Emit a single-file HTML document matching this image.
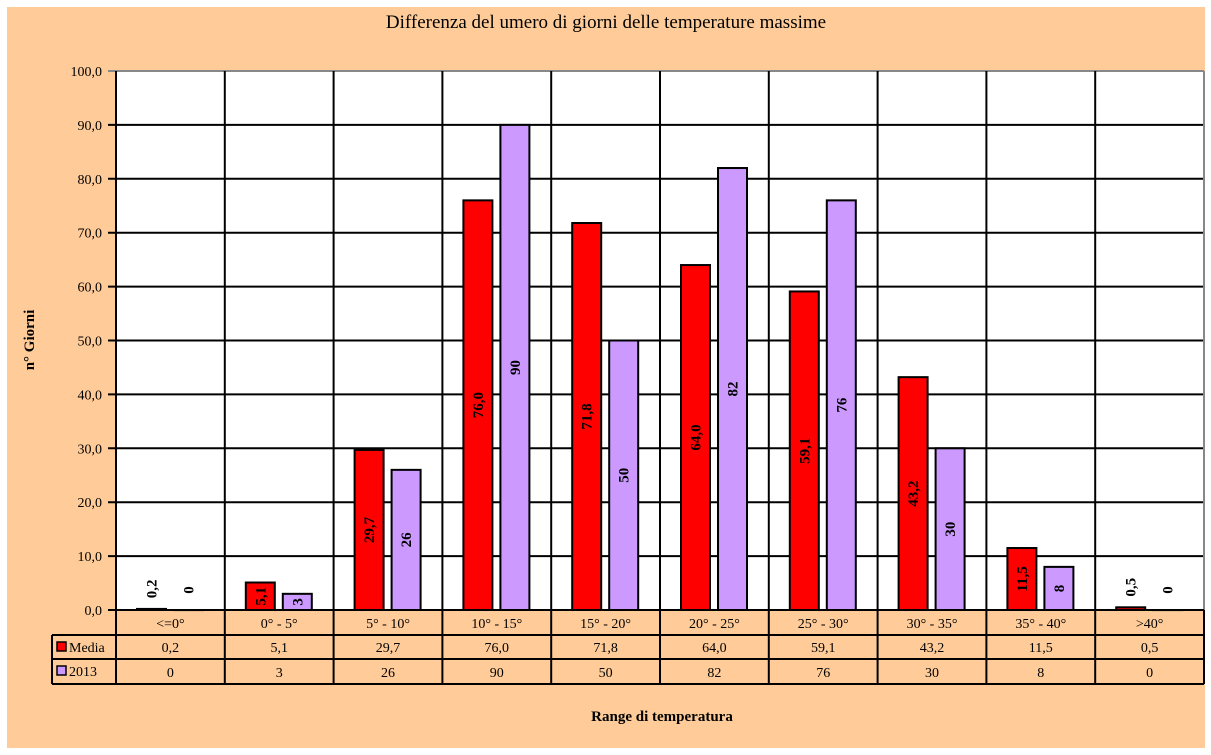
<!DOCTYPE html>
<html><head><meta charset="utf-8"><style>
body{margin:0;background:#fff;}
svg{display:block;font-family:"Liberation Serif",serif;}
</style></head><body>
<svg id="chart" width="1211" height="755" xmlns="http://www.w3.org/2000/svg">
<rect x="7" y="7" width="1198" height="741" fill="#FFCC99"/>
<text x="606" y="28" text-anchor="middle" font-size="19">Differenza del umero di giorni delle temperature massime</text>
<rect x="116" y="71" width="1088" height="539" fill="#fff"/>
<g id="grid"></g>
<g id="bars"></g>
<g id="table"></g>
<text transform="translate(34,340) rotate(-90)" text-anchor="middle" font-size="15" font-weight="bold">n° Giorni</text>
<text x="662" y="721" text-anchor="middle" font-size="15" font-weight="bold">Range di temperatura</text>
</svg>
<script>
const categories=["<=0°","0° - 5°","5° - 10°","10° - 15°","15° - 20°","20° - 25°","25° - 30°","30° - 35°","35° - 40°",">40°"];
const media=[0.2,5.1,29.7,76.0,71.8,64.0,59.1,43.2,11.5,0.5];
const y2013=[0,3,26,90,50,82,76,30,8,0];
const yTicks=[0,10,20,30,40,50,60,70,80,90,100];
const NS="http://www.w3.org/2000/svg";
const X0=116,X1=1204,Y0=610,Y1=71,YMAX=100;
const cw=(X1-X0)/categories.length;
const y=v=>Y0-(v/YMAX)*(Y0-Y1);
const xc=i=>X0+i*cw;
const fmt1=v=>v.toFixed(1).replace('.',',');
function mk(tag,attrs,parent,txt){const e=document.createElementNS(NS,tag);for(const k in attrs)e.setAttribute(k,attrs[k]);if(txt!==undefined)e.textContent=txt;parent.appendChild(e);return e;}
const grid=document.getElementById('grid'),bars=document.getElementById('bars'),table=document.getElementById('table');
yTicks.forEach(t=>{
  const l=mk('line',{x1:X0-8,x2:X1,y1:y(t),y2:y(t),stroke:t===YMAX?'#888':'#000','stroke-width':2},grid);
  
  
  const tx=mk('text',{x:X0-14,y:y(t)+5,'text-anchor':'end','font-size':14},grid,fmt1(t));
  
  
});
for(let i=0;i<=categories.length;i++){
  const l=mk('line',{x1:xc(i),x2:xc(i),y1:Y1,y2:684,stroke:i===categories.length?'#000':'#000','stroke-width':2},grid);
  
  
}
const l2=mk('line',{x1:X1,x2:X1,y1:Y1,y2:Y0,stroke:'#888','stroke-width':2},grid);


function bar(i,v,off,color,label,name){
  const x=xc(i)+off,w=29,top=y(v);
  const r=mk('rect',{x:x,y:top,width:w,height:Math.max(Y0-top,0.1),fill:color,stroke:'#000','stroke-width':2},bars);
  
  
  const h=Y0-top;
  const cy=h<12?top-20:(top+Y0)/2;
  const t=mk('text',{transform:`translate(${x+w/2+5},${cy}) rotate(-90)`,'text-anchor':'middle','font-size':15,'font-weight':'bold'},bars,label);
  
  
}
categories.forEach((c,i)=>{
  bar(i,media[i],21,'#FF0000',fmt1(media[i]),'bar-media-'+i);
  bar(i,y2013[i],58,'#CC99FF',String(y2013[i]),'bar-2013-'+i);
  const a=mk('text',{x:xc(i)+cw/2,y:628,'text-anchor':'middle','font-size':14},table,c);
  
  
  const b=mk('text',{x:xc(i)+cw/2,y:652,'text-anchor':'middle','font-size':14},table,fmt1(media[i]));
  
  
  const d=mk('text',{x:xc(i)+cw/2,y:677,'text-anchor':'middle','font-size':14},table,String(y2013[i]));
  
  
});
[[610,X0-8,X1],[635,52,X1],[659,52,X1],[684,52,X1]].forEach(([yy,a,b])=>{
  const l=mk('line',{x1:a,x2:b,y1:yy,y2:yy,stroke:'#000','stroke-width':2},table);
  
  
});
const lv=mk('line',{x1:52,x2:52,y1:635,y2:684,stroke:'#000','stroke-width':2},table);


[['Media','#FF0000',647],['2013','#CC99FF',671]].forEach(([n,col,yy])=>{
  const r=mk('rect',{x:57,y:yy-5,width:9,height:9,fill:col,stroke:'#000','stroke-width':1.5},table);
  
  
  const t=mk('text',{x:69,y:yy+5,'font-size':14},table,n);
  
  
});
</script>
</body></html>
